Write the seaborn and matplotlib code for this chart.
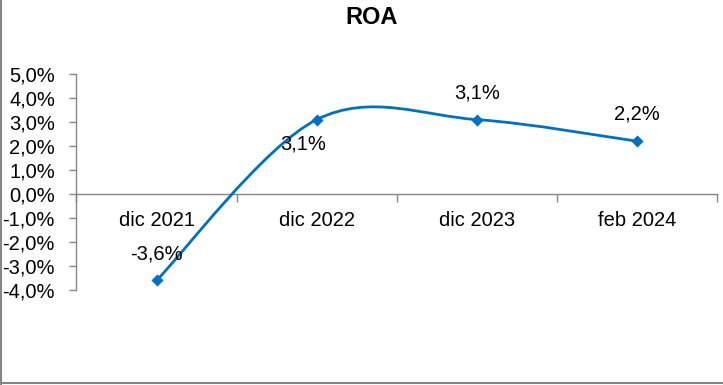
import matplotlib
matplotlib.use("Agg")
import matplotlib.pyplot as plt
from matplotlib.path import Path
from matplotlib.patches import PathPatch
from matplotlib.lines import Line2D
from matplotlib.ticker import FixedLocator, FuncFormatter
import pandas as pd
import seaborn as sns

# datos
periodos = ['dic 2021', 'dic 2022', 'dic 2023', 'feb 2024']
roa = [-3.6, 3.1, 3.1, 2.2]
etiquetas = ['-3,6%', '3,1%', '3,1%', '2,2%']

df = pd.DataFrame({'periodo': periodos, 'roa': roa})
df['x'] = range(len(df))

sns.set_style('white')
plt.rcParams['font.family'] = ['Liberation Sans', 'DejaVu Sans']
plt.rcParams['text.color'] = 'black'
plt.rcParams['xtick.color'] = 'black'
plt.rcParams['ytick.color'] = 'black'

azul = '#0070C0'
gris = '#868686'
fs = 14.5

fig = plt.figure(figsize=(7.23, 3.85), dpi=100)
ax = fig.add_axes([0.1058, 0.2468, 0.886, 0.561])

# linea suavizada (estilo Excel, Bezier tipo Catmull-Rom)
pts = list(zip(df['x'], df['roa']))
verts = [pts[0]]
codes = [Path.MOVETO]
for i in range(len(pts) - 1):
    p0 = pts[i - 1] if i > 0 else pts[i]
    p1 = pts[i]
    p2 = pts[i + 1]
    p3 = pts[i + 2] if i + 2 < len(pts) else pts[i + 1]
    c1 = (p1[0] + (p2[0] - p0[0]) / 6, p1[1] + (p2[1] - p0[1]) / 6)
    c2 = (p2[0] - (p3[0] - p1[0]) / 6, p2[1] - (p3[1] - p1[1]) / 6)
    verts += [c1, c2, p2]
    codes += [Path.CURVE4] * 3
ax.add_patch(PathPatch(Path(verts, codes), facecolor='none', edgecolor=azul,
                       lw=2.0, capstyle='round', zorder=3))

sns.scatterplot(data=df, x='x', y='roa', marker='D', s=38, color=azul,
                edgecolor=azul, linewidth=0, zorder=4, ax=ax)

# etiquetas de datos
offsets = [(0, 19), (-9.5, -17.5), (0, 19), (0, 19.5)]
for xi, yi, txt, off in zip(df['x'], df['roa'], etiquetas, offsets):
    ax.annotate(txt, (xi, yi), xytext=off, textcoords='offset points',
                ha='center', va='center', fontsize=fs, color='black', zorder=5)

ax.set_xlim(-0.5, 3.5)
ax.set_ylim(-4, 5)
ax.set_xlabel('')
ax.set_ylabel('')

ax.yaxis.set_major_locator(FixedLocator(range(-4, 6)))
ax.yaxis.set_major_formatter(FuncFormatter(lambda v, p: f'{v:.1f}%'.replace('.', ',')))
ax.tick_params(axis='y', left=True, length=5, width=1, color=gris, labelsize=fs,
               labelcolor='black', pad=10.5, direction='out')

ax.spines['bottom'].set_position(('data', 0))
ax.set_xticks(df['x'])
ax.set_xticklabels(periodos)
ax.set_xticks([-0.5, 0.5, 1.5, 2.5, 3.5], minor=True)
ax.tick_params(axis='x', which='major', length=0, labelsize=fs, labelcolor='black',
               pad=12)
ax.tick_params(axis='x', which='minor', bottom=True, length=6, width=1, color=gris,
               direction='out')

for s in ['top', 'right']:
    ax.spines[s].set_visible(False)
for s in ['left', 'bottom']:
    ax.spines[s].set_color(gris)
    ax.spines[s].set_linewidth(1)
ax.grid(False)

fig.text(372 / 723, 1 - 18 / 385, 'ROA', ha='center', va='center', fontsize=17,
         fontweight='bold')

# borde del area del grafico
fig.add_artist(Line2D([0.8 / 723, 0.8 / 723], [0, 1], color=gris, lw=1.5,
                      transform=fig.transFigure))
fig.add_artist(Line2D([0, 1], [2 / 385, 2 / 385], color=gris, lw=1.5,
                      transform=fig.transFigure))

plt.savefig('out.png', dpi=100)
